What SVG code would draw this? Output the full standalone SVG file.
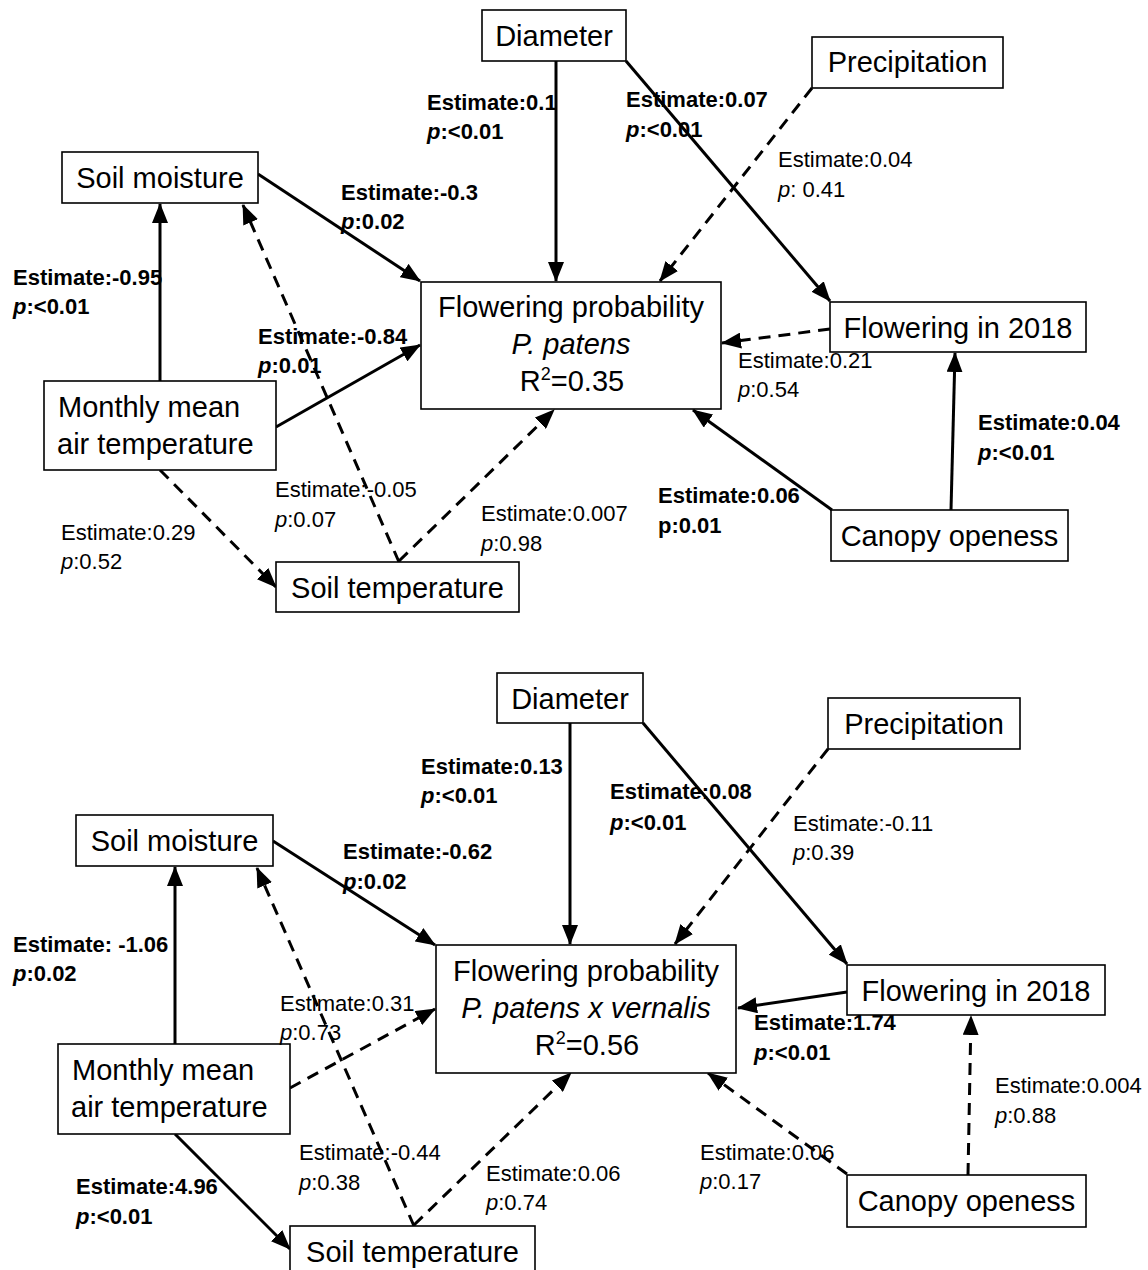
<svg xmlns="http://www.w3.org/2000/svg" width="1148" height="1270" viewBox="0 0 1148 1270">
<defs>
<style>
.box{fill:#fff;stroke:#000;stroke-width:1.6}
.nt{font-family:"Liberation Sans",Arial,sans-serif;font-size:29px;fill:#000}
.c{text-anchor:middle}
.lb{font-family:"Liberation Sans",Arial,sans-serif;font-size:22px;fill:#000}
.b{font-weight:bold}
.i{font-style:italic}
.e{fill:none;stroke:#000;stroke-width:3;marker-end:url(#ah)}
.d{stroke-dasharray:12 8}
</style>
<marker id="ah" markerUnits="userSpaceOnUse" markerWidth="20" markerHeight="16" viewBox="0 0 20 16" refX="19" refY="8" orient="auto">
<path d="M0,0 L20,8 L0,16 Z" fill="#000" stroke="none"/>
</marker>
</defs>
<rect width="1148" height="1270" fill="#fff"/>

<g id="connectors">
<!-- top panel -->
<line class="e" x1="556" y1="61" x2="556" y2="281"/>
<line class="e" x1="626" y1="61" x2="830" y2="301"/>
<line class="e d" x1="812" y1="88" x2="660" y2="281"/>
<line class="e" x1="258" y1="174" x2="420" y2="281"/>
<line class="e" x1="160" y1="381" x2="160" y2="204"/>
<line class="e d" x1="399" y1="562" x2="243" y2="205"/>
<line class="e" x1="276" y1="427" x2="420" y2="345"/>
<line class="e d" x1="160" y1="470" x2="276" y2="587"/>
<line class="e d" x1="399" y1="561" x2="554" y2="410"/>
<line class="e d" x1="830" y1="329" x2="722" y2="343"/>
<line class="e" x1="832" y1="510" x2="693" y2="410"/>
<line class="e" x1="951" y1="510" x2="955" y2="353"/>
<!-- bottom panel -->
<line class="e" x1="570" y1="723" x2="570" y2="944"/>
<line class="e" x1="643" y1="723" x2="847" y2="964"/>
<line class="e d" x1="828" y1="749" x2="675" y2="944"/>
<line class="e" x1="273" y1="841" x2="435" y2="945"/>
<line class="e" x1="175" y1="1044" x2="175" y2="867"/>
<line class="e d" x1="414" y1="1226" x2="257" y2="868"/>
<line class="e" x1="175" y1="1134" x2="290" y2="1249"/>
<line class="e d" x1="290" y1="1088" x2="435" y2="1009"/>
<line class="e d" x1="414" y1="1225" x2="571" y2="1073"/>
<line class="e" x1="847" y1="992" x2="738" y2="1008"/>
<line class="e d" x1="847" y1="1174" x2="708" y2="1073"/>
<line class="e d" x1="968" y1="1175" x2="971" y2="1016"/>
</g>

<g id="top-panel">
<g id="t-diameter"><rect class="box" x="482" y="10" width="144" height="51"/><text class="nt c" x="554" y="46">Diameter</text></g>
<g id="t-precipitation"><rect class="box" x="812" y="37" width="191" height="51"/><text class="nt c" x="907.5" y="72">Precipitation</text></g>
<g id="t-soil-moisture"><rect class="box" x="62" y="152" width="196" height="51"/><text class="nt c" x="160" y="188">Soil moisture</text></g>
<g id="t-flowering-prob"><rect class="box" x="421" y="282" width="300" height="127"/>
<text class="nt c" x="571" y="317">Flowering probability</text>
<text class="nt c i" x="571" y="354">P. patens</text>
<text class="nt c" x="572" y="391">R<tspan font-size="18" dy="-11">2</tspan><tspan dy="11">=0.35</tspan></text></g>
<g id="t-flowering-2018"><rect class="box" x="830" y="302" width="256" height="50"/><text class="nt c" x="958" y="338">Flowering in 2018</text></g>
<g id="t-air-temp"><rect class="box" x="44" y="381" width="232" height="89"/><text class="nt" x="58" y="417">Monthly mean</text><text class="nt" x="57" y="454">air temperature</text></g>
<g id="t-canopy"><rect class="box" x="831" y="510" width="237" height="51"/><text class="nt c" x="949.5" y="546">Canopy openess</text></g>
<g id="t-soil-temp"><rect class="box" x="276" y="562" width="243" height="50"/><text class="nt c" x="397.5" y="598">Soil temperature</text></g>
</g>

<g id="bottom-panel">
<g id="b-diameter"><rect class="box" x="497" y="673" width="146" height="50"/><text class="nt c" x="570" y="709">Diameter</text></g>
<g id="b-precipitation"><rect class="box" x="828" y="698" width="192" height="51"/><text class="nt c" x="924" y="734">Precipitation</text></g>
<g id="b-soil-moisture"><rect class="box" x="76" y="815" width="197" height="51"/><text class="nt c" x="174.5" y="851">Soil moisture</text></g>
<g id="b-flowering-prob"><rect class="box" x="436" y="945" width="300" height="128"/>
<text class="nt c" x="586" y="981">Flowering probability</text>
<text class="nt c i" x="586" y="1018">P. patens x vernalis</text>
<text class="nt c" x="587" y="1055">R<tspan font-size="18" dy="-11">2</tspan><tspan dy="11">=0.56</tspan></text></g>
<g id="b-flowering-2018"><rect class="box" x="847" y="965" width="258" height="50"/><text class="nt c" x="976" y="1001">Flowering in 2018</text></g>
<g id="b-air-temp"><rect class="box" x="58" y="1044" width="232" height="90"/><text class="nt" x="72" y="1080">Monthly mean</text><text class="nt" x="71" y="1117">air temperature</text></g>
<g id="b-canopy"><rect class="box" x="847" y="1175" width="239" height="52"/><text class="nt c" x="966.5" y="1211">Canopy openess</text></g>
<g id="b-soil-temp"><rect class="box" x="290" y="1226" width="245" height="52"/><text class="nt c" x="412.5" y="1262">Soil temperature</text></g>
</g>

<g id="labels">
<!-- top -->
<text class="lb b" x="427" y="110">Estimate:0.1</text><text class="lb b" x="427" y="139"><tspan class="i">p</tspan>:&lt;0.01</text>
<text class="lb b" x="626" y="107">Estimate:0.07</text><text class="lb b" x="626" y="137"><tspan class="i">p</tspan>:&lt;0.01</text>
<text class="lb" x="778" y="167">Estimate:0.04</text><text class="lb" x="778" y="197"><tspan class="i">p</tspan>: 0.41</text>
<text class="lb b" x="341" y="200">Estimate:-0.3</text><text class="lb b" x="341" y="229"><tspan class="i">p</tspan>:0.02</text>
<text class="lb b" x="13" y="285">Estimate:-0.95</text><text class="lb b" x="13" y="314"><tspan class="i">p</tspan>:&lt;0.01</text>
<text class="lb b" x="258" y="344">Estimate:-0.84</text><text class="lb b" x="258" y="373"><tspan class="i">p</tspan>:0.01</text>
<text class="lb" x="738" y="368">Estimate:0.21</text><text class="lb" x="738" y="397"><tspan class="i">p</tspan>:0.54</text>
<text class="lb b" x="978" y="430">Estimate:0.04</text><text class="lb b" x="978" y="460"><tspan class="i">p</tspan>:&lt;0.01</text>
<text class="lb" x="275" y="497">Estimate:-0.05</text><text class="lb" x="275" y="527"><tspan class="i">p</tspan>:0.07</text>
<text class="lb b" x="658" y="503">Estimate:0.06</text><text class="lb b" x="658" y="533">p:0.01</text>
<text class="lb" x="481" y="521">Estimate:0.007</text><text class="lb" x="481" y="551"><tspan class="i">p</tspan>:0.98</text>
<text class="lb" x="61" y="540">Estimate:0.29</text><text class="lb" x="61" y="569"><tspan class="i">p</tspan>:0.52</text>
<!-- bottom -->
<text class="lb b" x="421" y="774">Estimate:0.13</text><text class="lb b" x="421" y="803"><tspan class="i">p</tspan>:&lt;0.01</text>
<text class="lb b" x="610" y="799">Estimate:0.08</text><text class="lb b" x="610" y="830"><tspan class="i">p</tspan>:&lt;0.01</text>
<text class="lb" x="793" y="831">Estimate:-0.11</text><text class="lb" x="793" y="860"><tspan class="i">p</tspan>:0.39</text>
<text class="lb b" x="343" y="859">Estimate:-0.62</text><text class="lb b" x="343" y="889"><tspan class="i">p</tspan>:0.02</text>
<text class="lb b" x="13" y="952">Estimate: -1.06</text><text class="lb b" x="13" y="981"><tspan class="i">p</tspan>:0.02</text>
<text class="lb" x="280" y="1011">Estimate:0.31</text><text class="lb" x="280" y="1040"><tspan class="i">p</tspan>:0.73</text>
<text class="lb b" x="754" y="1030">Estimate:1.74</text><text class="lb b" x="754" y="1060"><tspan class="i">p</tspan>:&lt;0.01</text>
<text class="lb" x="995" y="1093">Estimate:0.004</text><text class="lb" x="995" y="1123"><tspan class="i">p</tspan>:0.88</text>
<text class="lb" x="299" y="1160">Estimate:-0.44</text><text class="lb" x="299" y="1190"><tspan class="i">p</tspan>:0.38</text>
<text class="lb" x="700" y="1160">Estimate:0.06</text><text class="lb" x="700" y="1189"><tspan class="i">p</tspan>:0.17</text>
<text class="lb" x="486" y="1181">Estimate:0.06</text><text class="lb" x="486" y="1210"><tspan class="i">p</tspan>:0.74</text>
<text class="lb b" x="76" y="1194">Estimate:4.96</text><text class="lb b" x="76" y="1224"><tspan class="i">p</tspan>:&lt;0.01</text>
</g>
</svg>
